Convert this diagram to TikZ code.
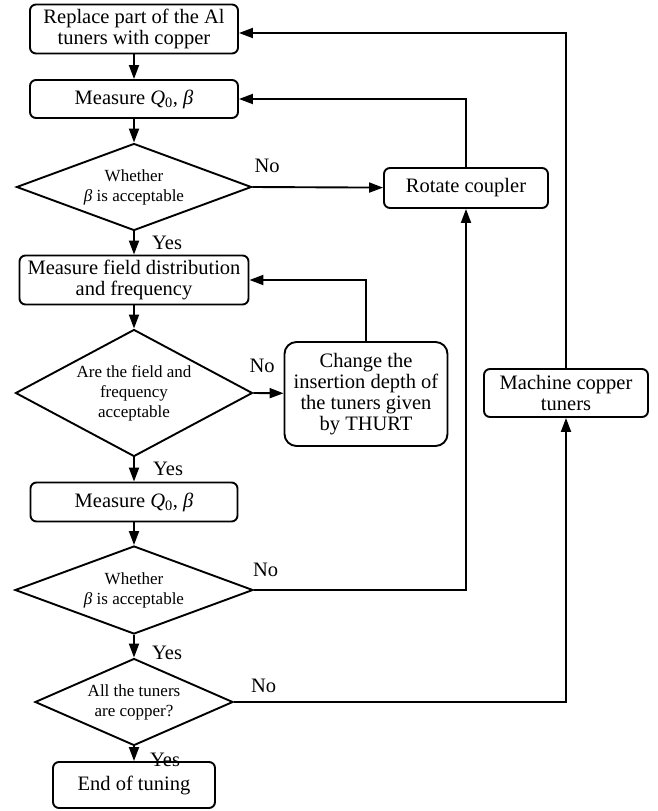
\documentclass[tikz,border=0pt]{standalone}
\usepackage{fontspec}
\setmainfont{Liberation Serif}
\usetikzlibrary{arrows.meta, positioning, shapes.geometric}
\tikzset{
  pbox/.style={draw, rounded corners=6pt, align=center, line width=1.9pt,
               inner sep=2pt, font=\fontsize{20.5}{21}\selectfont},
  dbox/.style={draw, diamond, align=center, line width=1.9pt,
               inner sep=0pt, font=\fontsize{17}{20}\selectfont},
  lbl/.style={inner sep=0pt, font=\fontsize{20.5}{21}\selectfont},
  arr/.style={-{Triangle[length=14pt,width=10pt]}, line width=1.9pt},
}

\begin{document}
\begin{tikzpicture}[x=1pt, y=-1pt]
  \useasboundingbox (0,0) rectangle (657,811);

  %% ── main column ──
  \node[pbox, minimum width=208pt, minimum height=49pt] (repl) at (134,29)
    {Replace part of the Al\\tuners with copper};
  \node[pbox, minimum width=208pt, minimum height=38pt] (meas1) at (134,99)
    {Measure \textit{Q}\textsubscript{0}, \textit{β}};
  \node[dbox, aspect=2.7, minimum width=235pt, minimum height=87pt] (beta1) at (134,187)
    {Whether\\\textit{β} is acceptable};
  \node[pbox, minimum width=229pt, minimum height=49pt] (field) at (134,280)
    {Measure field distribution\\and frequency};
  \node[dbox, aspect=1.87, minimum width=237pt, minimum height=127pt] (ffok) at (134,393)
    {Are the field and\\frequency\\acceptable};
  \node[pbox, minimum width=207pt, minimum height=39pt] (meas2) at (134,502)
    {Measure \textit{Q}\textsubscript{0}, \textit{β}};
  \node[dbox, aspect=2.7, minimum width=238pt, minimum height=88pt] (beta2) at (134,590)
    {Whether\\\textit{β} is acceptable};
  \node[dbox, aspect=2.28, minimum width=198pt, minimum height=87pt] (allcu) at (134,702)
    {All the tuners\\are copper?};
  \node[pbox, minimum width=162pt, minimum height=46pt] (done) at (134,785)
    {End of tuning};

  %% ── side boxes ──
  \node[pbox, minimum width=164pt, minimum height=40pt] (rot) at (466,188)
    {Rotate coupler};
  \node[pbox, rounded corners=12pt, minimum width=163pt, minimum height=104pt] (chg) at (366,394)
    {Change the\\insertion depth of\\the tuners given\\by THURT};
  \node[pbox, minimum width=164pt, minimum height=48pt] (mach) at (566,393)
    {Machine copper\\tuners};

  %% ── down the column ──
  \draw[arr] (repl) -- (meas1);
  \draw[arr] (meas1) -- (beta1);
  \draw[arr] (beta1) -- (field);
  \draw[arr] (field) -- (ffok);
  \draw[arr] (ffok) -- (meas2);
  \draw[arr] (meas2) -- (beta2);
  \draw[arr] (beta2) -- (allcu);
  \draw[arr] (allcu) -- (done);

  \node[lbl, anchor=base west, xshift=18pt, yshift=-18pt] (y1) at (beta1.south) {Yes};
  \node[lbl, anchor=base west, xshift=19pt, yshift=-18pt] (y2) at (ffok.south) {Yes};
  \node[lbl, anchor=base west, xshift=18pt, yshift=-25pt] (y3) at (beta2.south) {Yes};
  \node[lbl, anchor=base west, xshift=16pt, yshift=-20pt] (y4) at (allcu.south) {Yes};

  %% ── feedback loops ──
  \draw[arr] (beta1.east) -- (rot);
  \draw[arr] (rot.north) |- (meas1.east);
  \draw[arr] (ffok.east) -- (chg);
  \draw[arr] (chg.north) |- (field.east);
  \draw[arr] (beta2.east) -| (rot.south);
  \draw[arr] (allcu.east) -| (mach.south);
  \draw[arr] (mach.north) |- ([yshift=-4pt]repl.east);

  \node[lbl, anchor=south west, xshift=2pt, yshift=14pt] (n1) at (beta1.east) {No};
  \node[lbl, anchor=south west, xshift=-4pt, yshift=20pt] (n2) at (ffok.east) {No};
  \node[lbl, anchor=south west, xshift=-1pt, yshift=13pt] (n3) at (beta2.east) {No};
  \node[lbl, anchor=south west, xshift=17pt, yshift=9pt] (n4) at (allcu.east) {No};
\end{tikzpicture}
\end{document}
